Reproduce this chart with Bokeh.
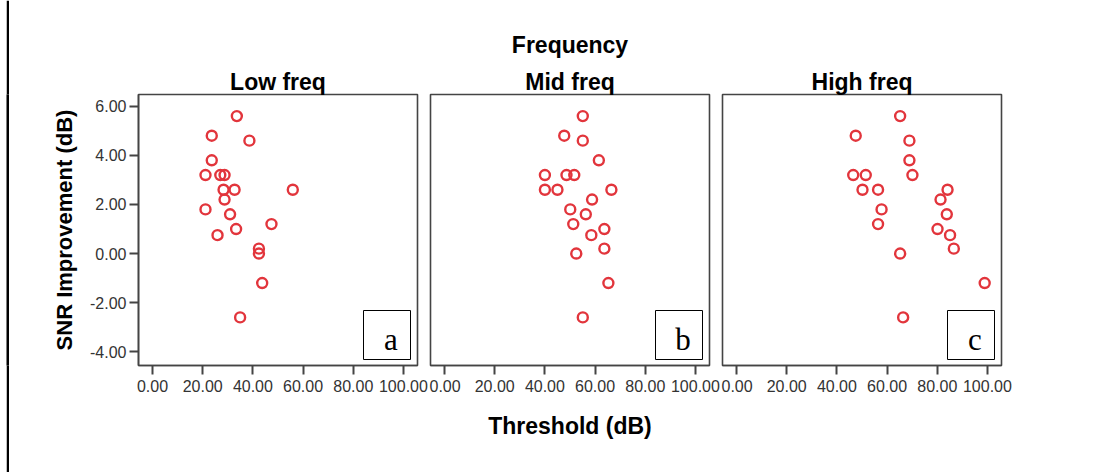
from bokeh.plotting import figure
from bokeh.layouts import row
from bokeh.models import (Range1d, FixedTicker, NumeralTickFormatter, Title,
                          BoxAnnotation, Label, ColumnDataSource, Spacer)
from bokeh.embed import file_html
from bokeh.resources import INLINE

# ---- data ----
snr = [5.6, 4.8, 4.6, 3.8, 3.2, 3.2, 3.2, 2.6, 2.6, 2.6,
       2.2, 1.8, 1.6, 1.2, 1.0, 0.75, 0.2, 0.0, -1.2, -2.6]
low_thr = [33.6, 23.6, 38.6, 23.6, 21.1, 27.0, 28.7, 28.3, 32.7, 55.9,
           28.7, 21.1, 30.9, 47.4, 33.3, 25.9, 42.4, 42.4, 43.7, 34.9]
mid_thr = [55.1, 47.7, 55.1, 61.5, 40.0, 48.6, 51.7, 40.0, 45.0, 66.5,
           58.8, 50.1, 56.3, 51.3, 63.7, 58.5, 63.7, 52.5, 65.3, 55.1]
high_thr = [65.2, 47.5, 68.9, 68.9, 46.5, 51.5, 70.1, 50.2, 56.4, 84.1,
            81.3, 57.8, 83.8, 56.4, 80.1, 85.1, 86.6, 65.2, 98.9, 66.4]
panel_titles = ["Low freq", "Mid freq", "High freq"]
panel_tags = ["a", "b", "c"]
x_ticks = [0, 20, 40, 60, 80, 100]
y_ticks = [-4, -2, 0, 2, 4, 6]
super_title = "Frequency"
x_title = "Threshold (dB)"
y_title = "SNR Improvement (dB)"

# ---- styling ----
X0, X1 = -5.6, 105.6
Y0, Y1 = -4.56, 6.48
FRAME_W, FRAME_H = 279, 271
H = 472
TOP = 94
BOTTOM = H - TOP - FRAME_H
SANS = "Liberation Sans"
RED = "#e2353c"
AXC = "#444444"
PX_X = FRAME_W / (X1 - X0)
PX_Y = FRAME_H / (Y1 - Y0)


def make_panel(xs, title, tag, first, last, middle):
    left = 129 if first else 1
    right = 60 if last else 12
    p = figure(width=left + FRAME_W + right, height=H,
               x_range=Range1d(X0, X1), y_range=Range1d(Y0, Y1),
               output_backend="svg", toolbar_location=None, title=None,
               y_axis_location="left" if first else None,
               min_border_left=left, min_border_right=right,
               min_border_top=TOP, min_border_bottom=BOTTOM,
               background_fill_color="white", border_fill_color=None,
               outline_line_color=AXC, outline_line_width=1.6)
    p.xgrid.visible = False
    p.ygrid.visible = False

    ax = p.xaxis[0]
    ax.ticker = FixedTicker(ticks=x_ticks)
    ax.formatter = NumeralTickFormatter(format="0.00")
    ax.major_tick_out = 9
    ax.major_tick_in = 0
    ax.minor_tick_out = 0
    ax.minor_tick_in = 0
    ax.major_tick_line_color = AXC
    ax.major_tick_line_width = 2
    ax.axis_line_color = AXC
    ax.axis_line_width = 1.6
    ax.major_label_standoff = 5
    ax.major_label_text_font = SANS
    ax.major_label_text_font_size = "16px"
    ax.major_label_text_color = "#333333"
    if middle:
        ax.axis_label = x_title
        ax.axis_label_standoff = 18
        ax.axis_label_text_font = SANS
        ax.axis_label_text_font_size = "23px"
        ax.axis_label_text_font_style = "bold"
        ax.axis_label_text_color = "black"

    if first:
        ay = p.yaxis[0]
        ay.ticker = FixedTicker(ticks=y_ticks)
        ay.formatter = NumeralTickFormatter(format="0.00")
        ay.major_tick_out = 9
        ay.major_tick_in = 0
        ay.minor_tick_out = 0
        ay.minor_tick_in = 0
        ay.major_tick_line_color = AXC
        ay.major_tick_line_width = 2
        ay.axis_line_color = AXC
        ay.axis_line_width = 1.6
        ay.major_label_standoff = 3
        ay.major_label_text_font = SANS
        ay.major_label_text_font_size = "16px"
        ay.major_label_text_color = "#333333"
        ay.axis_label = y_title
        ay.axis_label_standoff = 10
        ay.axis_label_text_font = SANS
        ay.axis_label_text_font_size = "22px"
        ay.axis_label_text_font_style = "bold"
        ay.axis_label_text_color = "black"

    src = ColumnDataSource(dict(x=xs, y=snr))
    p.scatter("x", "y", source=src, marker="circle", size=10,
              fill_color=None, line_color=RED, line_width=2.4)

    # tag box in the lower right corner
    b_right = X1 - 7 / PX_X
    b_left = b_right - 47 / PX_X
    b_bottom = Y0 + 6 / PX_Y
    b_top = b_bottom + 49 / PX_Y
    p.add_layout(BoxAnnotation(left=b_left, right=b_right, bottom=b_bottom,
                               top=b_top, fill_color="white", fill_alpha=1.0,
                               line_color="black", line_width=1, line_alpha=1.0))
    p.add_layout(Label(x=(b_left + b_right) / 2 + 4 / PX_X, y=b_bottom + 20 / PX_Y,
                       text=tag, text_align="center", text_baseline="alphabetic",
                       text_font="Liberation Serif", text_font_size="31px",
                       text_color="black"))

    p.add_layout(Title(text=title, align="center", text_font=SANS,
                       text_font_size="23px", text_font_style="bold",
                       text_color="black", standoff=0), "above")
    if middle:
        p.add_layout(Title(text=super_title, align="center", text_font=SANS,
                           text_font_size="23px", text_font_style="bold",
                           text_color="black", standoff=17), "above")
    return p


gap = Spacer(width=6, height=H)
bar = figure(width=3, height=H, toolbar_location=None, output_backend="svg",
             min_border=0, x_axis_location=None, y_axis_location=None,
             outline_line_color=None, background_fill_color="black",
             border_fill_color="black", title=None)
bar.xgrid.visible = False
bar.ygrid.visible = False

pa = make_panel(low_thr, panel_titles[0], panel_tags[0], True, False, False)
pb = make_panel(mid_thr, panel_titles[1], panel_tags[1], False, False, True)
pc = make_panel(high_thr, panel_titles[2], panel_tags[2], False, True, False)

layout = row(gap, bar, pa, pb, pc, spacing=0)
open("out.html", "w").write(file_html(layout, INLINE))
